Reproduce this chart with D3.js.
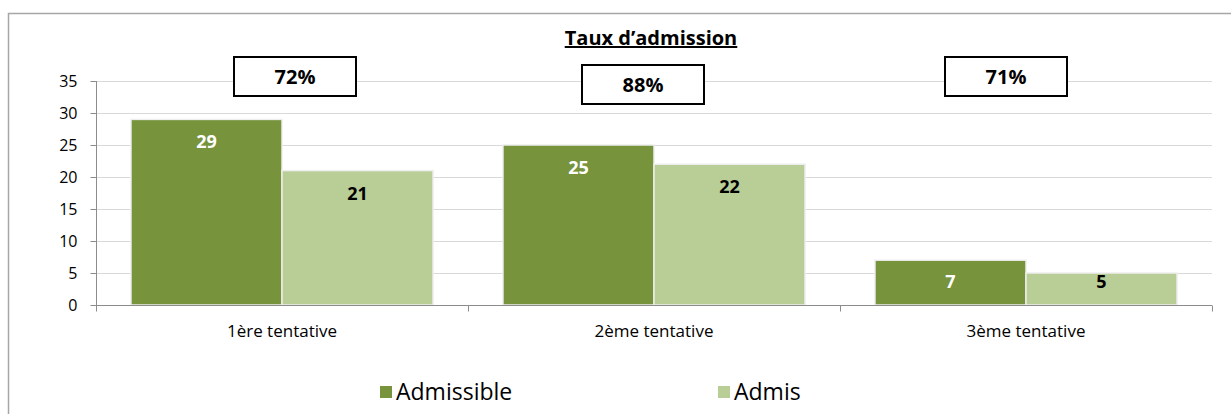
<!DOCTYPE html>
<html>
<head>
<meta charset="utf-8">
<script src="https://cdn.jsdelivr.net/npm/d3@7"></script>
<style>
  body { margin: 0; background: #fff; }
  svg { display: block; font-family: "Open Sans", "Noto Sans", sans-serif; }
</style>
</head>
<body>
<div id="chart"></div>
<script>
var aCategories = ["1ère tentative", "2ème tentative", "3ème tentative"];
var aSeries = ["Admissible", "Admis"];
var aAdmissible = [29, 25, 7];
var aAdmis = [21, 22, 5];
var aRates = ["72%", "88%", "71%"];
var aYTicks = [0, 5, 10, 15, 20, 25, 30, 35];

var aColors = ["#77933c", "#b9cd96"];
var aLabelColors = ["#ffffff", "#000000"];

// small nudges of the rate boxes, as placed in the original
var boxDx = [13, -11, -20];
var boxDy = [0, 8, 0];

var W = 1231, H = 414;
var mLeft = 96, mRight = 1212, mTop = 81, mBottom = 305;

var svg = d3.select("#chart").append("svg")
    .attr("width", W)
    .attr("height", H);

// outer frame (top + left edges only visible)
svg.append("path")
    .attr("d", "M8.5," + H + " L8.5,13.5 L" + W + ",13.5")
    .attr("fill", "none")
    .attr("stroke", "#a6a6a6")
    .attr("stroke-width", 1.5);

var y = d3.scaleLinear().domain([0, 35]).range([mBottom, mTop]);

var x0 = d3.scaleBand()
    .domain(aCategories)
    .range([mLeft, mRight])
    .paddingInner(0.188)
    .paddingOuter(0.094);

var x1 = d3.scaleBand()
    .domain(aSeries)
    .range([0, x0.bandwidth()]);

// gridlines
svg.append("g")
    .selectAll("line")
    .data(aYTicks.slice(1))
    .enter()
    .append("line")
    .attr("x1", mLeft)
    .attr("x2", mRight)
    .attr("y1", function(d){ return Math.round(y(d)) + 0.5; })
    .attr("y2", function(d){ return Math.round(y(d)) + 0.5; })
    .attr("stroke", "#d9d9d9")
    .attr("stroke-width", 1);

// y axis
var yAxis = d3.axisLeft(y).tickValues(aYTicks).tickSize(6).tickPadding(13);
var gy = svg.append("g")
    .attr("transform", "translate(" + (mLeft + 0.5) + ",0)")
    .call(yAxis);
gy.select(".domain").attr("stroke", "#8c8c8c").attr("d", "M0," + mTop + "V" + (mBottom + 6));
gy.selectAll(".tick line").attr("stroke", "#8c8c8c");
gy.selectAll(".tick text")
    .attr("font-size", "16px")
    .attr("fill", "#000")
    .attr("font-family", "Open Sans, sans-serif");

// rows of bars
var rows = aCategories.map(function(c, i){
    return { cat: c, values: [aAdmissible[i], aAdmis[i]] };
});

var groups = svg.append("g")
    .selectAll("g")
    .data(rows)
    .enter()
    .append("g")
    .attr("transform", function(d){ return "translate(" + x0(d.cat) + ",0)"; });

groups.selectAll("rect")
    .data(function(d){ return d.values.map(function(v, j){ return { s: aSeries[j], v: v, j: j }; }); })
    .enter()
    .append("rect")
    .attr("x", function(d){ return x1(d.s); })
    .attr("y", function(d){ return y(d.v); })
    .attr("width", x1.bandwidth())
    .attr("height", function(d){ return mBottom - y(d.v); })
    .attr("fill", function(d){ return aColors[d.j]; })
    .attr("stroke", "#eeeeee")
    .attr("stroke-width", 1.5);

// inside-end labels, kept off the axis for short bars
groups.selectAll("text")
    .data(function(d){ return d.values.map(function(v, j){ return { s: aSeries[j], v: v, j: j }; }); })
    .enter()
    .append("text")
    .text(function(d){ return d.v; })
    .attr("x", function(d){ return x1(d.s) + x1.bandwidth() / 2; })
    .attr("y", function(d){ return Math.min(y(d.v) + 29, mBottom - 17); })
    .attr("text-anchor", "middle")
    .attr("font-size", "18px")
    .attr("font-weight", "bold")
    .attr("fill", function(d){ return aLabelColors[d.j]; });

// x axis
var gx = svg.append("g").attr("transform", "translate(0," + (mBottom + 0.5) + ")");
gx.append("line")
    .attr("x1", mLeft).attr("x2", mRight)
    .attr("stroke", "#8c8c8c");
var aBounds = [mLeft, mRight].concat(aCategories.slice(1).map(function(c){
    return x0(c) - x0.step() * x0.paddingInner() / 2;
}));
gx.selectAll("line.tick")
    .data(aBounds)
    .enter()
    .append("line")
    .attr("class", "tick")
    .attr("x1", function(d){ return Math.round(d) + 0.5; })
    .attr("x2", function(d){ return Math.round(d) + 0.5; })
    .attr("y1", 0).attr("y2", 6)
    .attr("stroke", "#8c8c8c");
gx.selectAll("text")
    .data(aCategories)
    .enter()
    .append("text")
    .text(function(d){ return d; })
    .attr("x", function(d){ return x0(d) + x0.bandwidth() / 2; })
    .attr("y", 31)
    .attr("text-anchor", "middle")
    .attr("font-size", "17px")
    .attr("fill", "#000");

// title
svg.append("text")
    .text("Taux d’admission")
    .attr("x", 651)
    .attr("y", 45)
    .attr("text-anchor", "middle")
    .attr("font-size", "20px")
    .attr("font-weight", "bold")
    .attr("text-decoration", "underline")
    .attr("fill", "#000");

// rate boxes
var boxes = svg.append("g")
    .selectAll("g")
    .data(aRates)
    .enter()
    .append("g")
    .attr("transform", function(d, i){
        var cx = x0(aCategories[i]) + x0.bandwidth() / 2 + boxDx[i];
        return "translate(" + cx + "," + (57 + boxDy[i]) + ")";
    });
boxes.append("rect")
    .attr("x", -61)
    .attr("y", 0)
    .attr("width", 122)
    .attr("height", 39)
    .attr("fill", "#fff")
    .attr("stroke", "#000")
    .attr("stroke-width", 2);
boxes.append("text")
    .text(function(d){ return d; })
    .attr("x", 0)
    .attr("y", 27)
    .attr("text-anchor", "middle")
    .attr("font-size", "20px")
    .attr("font-weight", "bold")
    .attr("fill", "#000");

// legend
var legendX = [380, 718];
var legend = svg.append("g")
    .selectAll("g")
    .data(aSeries)
    .enter()
    .append("g")
    .attr("transform", function(d, i){ return "translate(" + legendX[i] + ",386)"; });
legend.append("rect")
    .attr("width", 12)
    .attr("height", 12)
    .attr("fill", function(d, i){ return aColors[i]; });
legend.append("text")
    .text(function(d){ return d; })
    .attr("x", 16)
    .attr("y", 14)
    .attr("font-size", "23px")
    .attr("fill", "#000");
</script>
</body>
</html>
